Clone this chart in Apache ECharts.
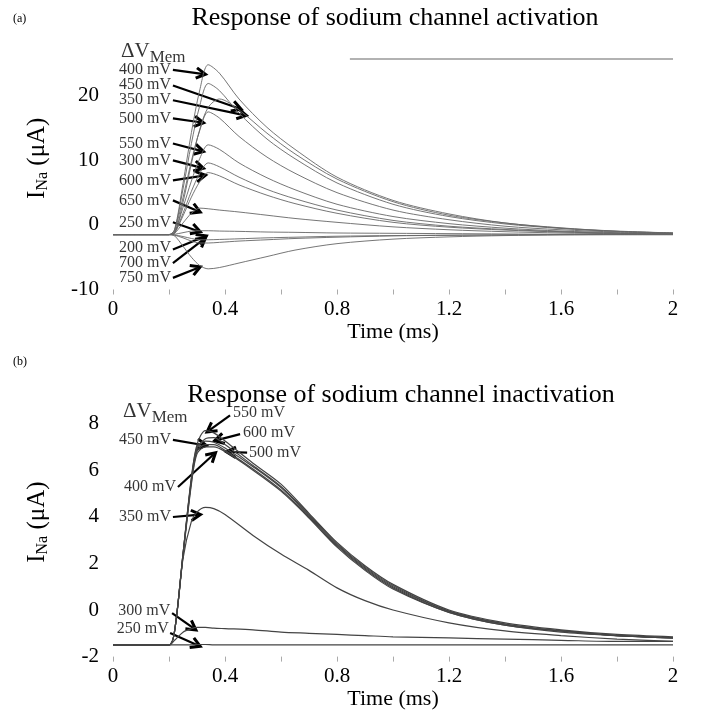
<!DOCTYPE html>
<html><head><meta charset="utf-8">
<script src="https://cdn.jsdelivr.net/npm/echarts@6/dist/echarts.min.js"></script>
<style>html,body{margin:0;padding:0;background:#fff}#c{width:706px;height:716px}</style>
</head><body><div id="c"></div>
<script>
const FONT = "'Liberation Serif','DejaVu Serif','Times New Roman',serif";

// ---------- Panel (a): activation ----------
const timeA = [0, 0.2, 0.22, 0.25, 0.28, 0.31, 0.34, 0.38, 0.45, 0.55, 0.65, 0.8, 1.0, 1.2, 1.4, 1.6, 1.8, 2.0];
const act400 = [-1.5,-1.5,-0.7,6.4,14.3,20.9,24.8,23.5,19.5,15.1,11.7,7.4,3.8,1.7,0.3,-0.45,-1.0,-1.25];
const act450 = [-1.5,-1.5,-0.8,5.55,12.6,18.5,21.9,20.8,17.3,13.3,10.25,6.5,3.2,1.3,0.15,-0.55,-1.0,-1.25];
const act350 = [-1.5,-1.5,-1.3,3.5,9.5,14.8,18.2,19.5,17.8,14.2,11.0,7.1,3.6,1.5,0.3,-0.5,-0.95,-1.25];
const act500 = [-1.5,-1.5,-0.9,4.2,9.9,14.65,17.5,16.55,13.7,10.5,8.0,5.0,2.3,0.8,-0.2,-0.75,-1.1,-1.3];
const act550 = [-1.5,-1.5,-1.1,2.7,6.8,10.3,12.4,11.7,9.6,7.3,5.45,3.2,1.3,0.2,-0.5,-0.95,-1.2,-1.35];
const act300 = [-1.5,-1.5,-1.2,1.8,5.2,8.0,9.6,9.0,7.4,5.5,4.05,2.3,0.7,-0.2,-0.7,-1.05,-1.3,-1.4];
const act600 = [-1.5,-1.5,-1.2,1.4,4.3,6.7,8.1,7.6,6.2,4.6,3.3,1.8,0.4,-0.35,-0.8,-1.1,-1.3,-1.4];
const act650 = [-1.5,-1.5,-1.3,0.3,1.8,2.6,2.5,2.3,2.0,1.5,1.0,0.4,-0.3,-0.75,-1.05,-1.25,-1.35,-1.4];
const act250 = [-1.5,-1.5,-1.45,-1.2,-0.95,-0.9,-0.9,-0.95,-1.0,-1.1,-1.15,-1.25,-1.3,-1.35,-1.4,-1.45,-1.45,-1.45];
const act200 = [-1.5,-1.5,-1.55,-1.8,-2.1,-2.3,-2.3,-2.25,-2.15,-2.0,-1.9,-1.75,-1.65,-1.6,-1.55,-1.5,-1.5,-1.5];
const act700 = [-1.5,-1.5,-1.6,-2.0,-2.5,-2.8,-2.8,-2.7,-2.5,-2.3,-2.1,-1.9,-1.7,-1.6,-1.55,-1.5,-1.5,-1.5];
const act750 = [-1.5,-1.5,-1.7,-3.3,-5.0,-6.3,-6.8,-6.6,-5.9,-4.9,-3.9,-2.9,-2.2,-1.85,-1.65,-1.55,-1.5,-1.5];
const actSeries = [act400, act450, act350, act500, act550, act300, act600, act650, act250, act200, act700, act750];
const actNames = ['400 mV','450 mV','350 mV','500 mV','550 mV','300 mV','600 mV','650 mV','250 mV','200 mV','700 mV','750 mV'];
// annotation anchors (data units): label right edge, arrow start -> arrow tip
const actLabelAt = [[0.211,24.0],[0.211,21.7],[0.211,19.4],[0.211,16.5],[0.211,12.6],[0.211,10.0],[0.211,6.9],[0.211,3.8],[0.211,0.4],[0.211,-3.6],[0.211,-5.9],[0.211,-8.2]];
const actArrowFrom = [[0.214,24.0],[0.214,21.6],[0.214,19.3],[0.214,16.5],[0.214,12.6],[0.214,10.0],[0.214,6.9],[0.214,3.8],[0.214,0.4],[0.214,-3.8],[0.214,-5.9],[0.214,-8.2]];
const actArrowTo = [[0.318,23.4],[0.446,18.1],[0.464,17.05],[0.311,15.9],[0.311,11.5],[0.311,8.9],[0.318,7.6],[0.300,2.2],[0.300,-0.9],[0.321,-1.9],[0.321,-2.3],[0.300,-6.7]];
const actTopLine = [[0.846,25.7],[2.0,25.7]];

// ---------- Panel (b): inactivation ----------
const timeB = [0, 0.2, 0.22, 0.25, 0.28, 0.3, 0.33, 0.36, 0.4, 0.5, 0.6, 0.7, 0.8, 0.9, 1.0, 1.2, 1.4, 1.6, 1.8, 2.0];
const inact550 = [-1.5,-1.5,-0.9,2.4,5.7,7.1,7.7,7.6,7.25,6.3,5.4,4.15,2.9,1.9,1.1,0.0,-0.55,-0.85,-1.05,-1.15];
const inact600 = [-1.5,-1.5,-0.9,2.4,5.6,6.9,7.35,7.4,7.1,6.2,5.3,4.1,2.85,1.85,1.05,-0.05,-0.6,-0.9,-1.1,-1.2];
const inact500 = [-1.5,-1.5,-0.9,2.35,5.5,6.8,7.1,7.1,6.85,6.05,5.15,4.0,2.75,1.75,0.95,-0.1,-0.65,-0.9,-1.1,-1.2];
const inact450 = [-1.5,-1.5,-0.9,2.4,5.6,7.0,7.25,7.2,6.95,6.15,5.25,4.05,2.8,1.8,1.0,-0.05,-0.6,-0.9,-1.1,-1.2];
const inact400 = [-1.5,-1.5,-0.9,2.3,5.4,6.7,7.0,7.0,6.8,6.0,5.1,3.95,2.7,1.7,0.9,-0.1,-0.65,-0.95,-1.1,-1.2];
const inact350 = [-1.5,-1.5,-0.9,2.2,3.8,4.2,4.4,4.35,4.1,3.2,2.4,1.7,0.95,0.4,0.0,-0.55,-0.9,-1.1,-1.25,-1.35];
const inact300 = [-1.5,-1.5,-1.3,-0.95,-0.8,-0.75,-0.75,-0.78,-0.8,-0.85,-0.95,-1.0,-1.05,-1.1,-1.15,-1.2,-1.25,-1.3,-1.35,-1.35];
const inact250 = [-1.5,-1.5,-1.5,-1.5,-1.5,-1.48,-1.48,-1.5,-1.5,-1.5,-1.5,-1.5,-1.5,-1.5,-1.5,-1.5,-1.5,-1.5,-1.5,-1.5];
const inactSeries = [inact550, inact600, inact500, inact450, inact400, inact350, inact300, inact250];
const inactNames = ['550 mV','600 mV','500 mV','450 mV','400 mV','350 mV','300 mV','250 mV'];
const inactLabelAt = [[0.425,8.45],[0.461,7.6],[0.482,6.75],[0.211,7.3],[0.229,5.28],[0.211,3.99],[0.208,-0.04],[0.203,-0.82]];
const inactLabelSide = ['right','right','right','left','left','left','left','left'];
const inactArrowFrom = [[0.418,8.35],[0.454,7.55],[0.479,6.75],[0.214,7.3],[0.232,5.28],[0.214,3.99],[0.211,-0.13],[0.204,-0.99]];
const inactArrowTo = [[0.346,7.73],[0.375,7.3],[0.418,6.78],[0.321,7.08],[0.357,6.65],[0.300,4.08],[0.286,-0.77],[0.300,-1.5]];

const xTickStep = 0.2, xLabelStep = 0.4;
const ARROW = 'path://M5,0 L10,9 L8,10.2 L5,4.8 L2,10.2 L0,9 Z';

function xAxisCfg(grid) {
  return {
    type: 'value', gridIndex: grid, min: 0, max: 2, interval: xTickStep,
    name: 'Time (ms)', nameLocation: 'middle', nameGap: 32,
    nameTextStyle: { fontFamily: FONT, fontSize: 22, color: '#000' },
    axisLine: { show: false, onZero: false },
    axisTick: { show: true, length: 5, lineStyle: { color: '#aaa', width: 1 } },
    splitLine: { show: false },
    axisLabel: {
      fontFamily: FONT, fontSize: 21, color: '#000', margin: 9,
      formatter: v => Math.abs(v / xLabelStep - Math.round(v / xLabelStep)) < 1e-6 ? String(+v.toFixed(1)) : ''
    }
  };
}
function yAxisCfg(grid, min, max, step, gap, shift) {
  return {
    type: 'value', gridIndex: grid, min: min, max: max, interval: step,
    name: '{i|I}{s|Na}{u| (μA)}', nameLocation: 'middle', nameGap: gap, nameRotate: 90,
    nameTextStyle: { fontFamily: FONT, color: '#000', padding: [0, 0, 0, shift], rich: {
      i: { fontFamily: FONT, fontSize: 25, color: '#000' },
      s: { fontFamily: FONT, fontSize: 16, color: '#000', padding: [12, 0, 0, 0] },
      u: { fontFamily: FONT, fontSize: 25, color: '#000' } } },
    axisLine: { show: false, onZero: false }, axisTick: { show: false }, splitLine: { show: false },
    axisLabel: { fontFamily: FONT, fontSize: 21, color: '#000', margin: 14, showMaxLabel: false }
  };
}

const series = [];
function addCurves(times, arrs, names, grid, color, width) {
  arrs.forEach((arr, k) => {
    series.push({
      type: 'line', name: names[k], xAxisIndex: grid, yAxisIndex: grid,
      data: times.map((t, i) => [t, arr[i]]),
      showSymbol: false, smooth: 0.3, silent: true,
      lineStyle: { color: color, width: width }
    });
  });
}
addCurves(timeA, actSeries, actNames, 0, '#666', 0.9);
addCurves(timeB, inactSeries, inactNames, 1, '#444', 1.2);
series.push({
  type: 'line', xAxisIndex: 0, yAxisIndex: 0, data: actTopLine, showSymbol: false, silent: true,
  lineStyle: { color: '#999', width: 1.5 }
});

function addArrows(from, to, grid) {
  series.push({
    type: 'lines', coordinateSystem: 'cartesian2d', xAxisIndex: grid, yAxisIndex: grid,
    silent: true, symbol: ['none', ARROW], symbolSize: [13, 13],
    lineStyle: { color: '#000', width: 2.2, opacity: 1, curveness: 0 },
    data: from.map((f, i) => ({ coords: [f, to[i]] }))
  });
}
addArrows(actArrowFrom, actArrowTo, 0);
addArrows(inactArrowFrom, inactArrowTo, 1);

function addLabels(pos, names, sides, grid, extra) {
  const data = pos.map((p, i) => ({
    value: p, name: names[i],
    label: { position: sides ? sides[i] : 'left' }
  }));
  if (extra) data.push(extra);
  series.push({
    type: 'scatter', xAxisIndex: grid, yAxisIndex: grid, symbolSize: 0, clip: false, silent: true,
    label: { show: true, formatter: '{b}', distance: 1, fontFamily: FONT, fontSize: 16, color: '#000',
      rich: { d: { fontFamily: FONT, fontSize: 21, color: '#000' },
              m: { fontFamily: FONT, fontSize: 17, color: '#000', padding: [12, 0, 0, 0] } } },
    data: data
  });
}
const dvLabel = '{d|ΔV}{m|Mem}';
addLabels(actLabelAt, actNames, null, 0, { value: [0.025, 26.9], name: dvLabel, label: { position: 'right' } });
addLabels(inactLabelAt, inactNames, inactLabelSide, 1, { value: [0.032, 8.5], name: dvLabel, label: { position: 'right' } });

const option = {
  backgroundColor: '#fff',
  animation: false,
  title: [
    { text: 'Response of sodium channel activation', left: 390, top: 0, textAlign: 'center',
      textStyle: { fontFamily: FONT, fontSize: 26, fontWeight: 'normal', color: '#000' } },
    { text: 'Response of sodium channel inactivation', left: 396, top: 377, textAlign: 'center',
      textStyle: { fontFamily: FONT, fontSize: 26, fontWeight: 'normal', color: '#000' } },
    { text: '(a)', left: 8, top: 8, textStyle: { fontFamily: FONT, fontSize: 12, fontWeight: 'normal', color: '#000' } },
    { text: '(b)', left: 8, top: 351, textStyle: { fontFamily: FONT, fontSize: 12, fontWeight: 'normal', color: '#000' } }
  ],
  grid: [
    { left: 113, right: 33, top: 57, height: 232.5 },
    { left: 113, right: 33, top: 409.6, height: 247 }
  ],
  xAxis: [xAxisCfg(0), xAxisCfg(1)],
  yAxis: [yAxisCfg(0, -10, 26, 10, 62, 30), yAxisCfg(1, -2, 8.6, 2, 62, 22)],
  series: series
};
echarts.init(document.getElementById('c')).setOption(option);
</script></body></html>
